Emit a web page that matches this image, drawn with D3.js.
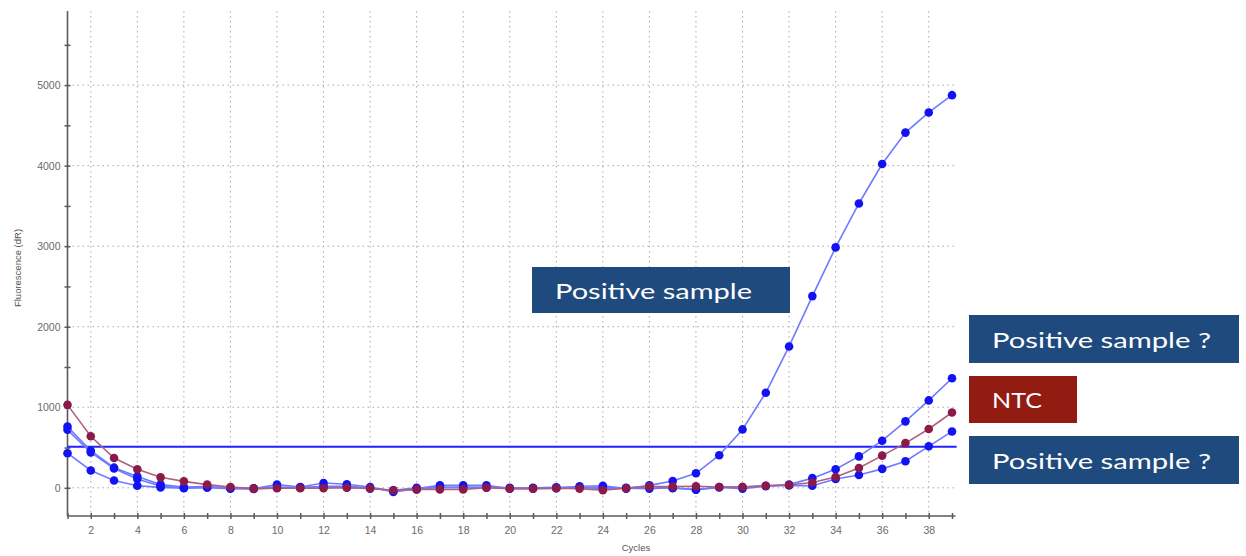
<!DOCTYPE html>
<html>
<head>
<meta charset="utf-8">
<script src="https://cdn.jsdelivr.net/npm/d3@7"></script>
<style>
  html, body { margin: 0; padding: 0; background: #fff; }
  svg { display: block; }
</style>
</head>
<body>
<svg id="chart" width="1246" height="556"></svg>
<script>
// Amplification curves: fluorescence (dR) per PCR cycle
const cycles = d3.range(1, 40);

const strongPositive = [760, 460, 250, 140, 40, 10, 15, -5, -10, 40,
  10, 60, 45, 10, -50, -10, 30, 30, 30, -10,
  -10, -5, 20, 25, -10, 30, 85, 180, 405, 725,
  1180, 1755, 2380, 2985, 3530, 4020, 4410, 4660, 4875];

const questionableUpper = [720, 440, 240, 110, 20, 0, 10, 0, -5, 10,
  0, 20, 20, 0, -40, -20, 10, 0, 10, 0,
  -5, 0, 10, -10, 0, 20, -5, -20, 10, 10,
  25, 40, 120, 230, 390, 585, 825, 1085, 1360];

const questionableLower = [430, 215, 90, 25, 5, -5, 0, -10, -15, 0,
  5, 10, 5, -10, -30, 0, 0, 10, 0, -5,
  0, 5, 0, 5, -5, -10, 0, -25, 5, -10,
  20, 30, 25, 110, 160, 235, 330, 515, 700];

const ntc = [1030, 640, 370, 230, 130, 80, 40, 10, -10, -5,
  -5, -5, 0, -5, -30, -20, -20, -20, 0, -10,
  -10, -5, -10, -30, -5, 15, 15, 20, 10, 10,
  25, 35, 65, 135, 245, 400, 555, 730, 935];

const threshold = 510;

const yTicks = [0, 1000, 2000, 3000, 4000, 5000];
const yMinorTicks = d3.range(0, 6000, 500);
const xLabelTicks = d3.range(2, 40, 2);

const annotations = [
  { text: "Positive sample", kind: "pos", x0: 532, x1: 790, y0: 267, y1: 313, w: 197 },
  { text: "Positive sample ?", kind: "pos", x0: 969, x1: 1239, y0: 315, y1: 363, w: 219 },
  { text: "NTC", kind: "ntc", x0: 969, x1: 1077, y0: 376, y1: 423, w: 50 },
  { text: "Positive sample ?", kind: "pos", x0: 969, x1: 1239, y0: 436, y1: 484, w: 219 }
];

const svg = d3.select("#chart");

const x = d3.scaleLinear().domain([1, 39.15]).range([67.5, 955.5]);
const y = d3.scaleLinear().domain([-350, 5920]).range([516, 11]);

const gridColor = "#a8a8a8";

// dotted grid
const grid = svg.append("g");
grid.selectAll("line.h").data(yTicks).join("line")
  .attr("x1", x(1)).attr("x2", x(39.15))
  .attr("y1", d => y(d)).attr("y2", d => y(d))
  .attr("stroke", gridColor).attr("stroke-width", 1)
  .attr("stroke-dasharray", "1.5,3.5");
grid.selectAll("line.v").data(xLabelTicks).join("line")
  .attr("x1", d => x(d)).attr("x2", d => x(d))
  .attr("y1", y(5920)).attr("y2", y(-350))
  .attr("stroke", gridColor).attr("stroke-width", 1)
  .attr("stroke-dasharray", "1.5,3.5");

// axes
const axisColor = "#5a5a5a";
const labelColor = "#6b6b6b";

const yAxis = svg.append("g").attr("transform", `translate(${x(1)},0)`)
  .call(d3.axisLeft(y).tickValues(yTicks).tickSize(0).tickPadding(7).tickFormat(d3.format("d")));
yAxis.select(".domain").remove();
yAxis.selectAll("text").attr("fill", labelColor)
  .style("font-family", "'Liberation Sans', Arial, sans-serif").style("font-size", "10.5px");

const yTickMarks = svg.append("g").attr("transform", `translate(${x(1)},0)`)
  .call(d3.axisLeft(y).tickValues(yMinorTicks).tickSizeOuter(0).tickFormat(""));
yTickMarks.select(".domain").remove();
yTickMarks.selectAll("line").attr("x2", -3).attr("x1", 3).attr("stroke", axisColor).attr("stroke-width", 1.5);

const xAxis = svg.append("g").attr("transform", `translate(0,${y(-350)})`)
  .call(d3.axisBottom(x).tickValues(xLabelTicks).tickSize(0).tickPadding(11).tickFormat(d3.format("d")));
xAxis.select(".domain").remove();
xAxis.selectAll("text").attr("fill", labelColor)
  .style("font-family", "'Liberation Sans', Arial, sans-serif").style("font-size", "10.5px");

const xTickMarks = svg.append("g").attr("transform", `translate(0,${y(-350)})`)
  .call(d3.axisBottom(x).tickValues(cycles).tickSizeOuter(0).tickFormat(""));
xTickMarks.select(".domain").remove();
xTickMarks.selectAll("line").attr("y1", -3).attr("y2", 3).attr("stroke", axisColor).attr("stroke-width", 1.5);

// axis lines
svg.append("line").attr("x1", x(1)).attr("x2", x(1)).attr("y1", y(5920)).attr("y2", y(-350))
  .attr("stroke", axisColor).attr("stroke-width", 1.6);
svg.append("line").attr("x1", x(1)).attr("x2", x(39.15)).attr("y1", y(-350)).attr("y2", y(-350))
  .attr("stroke", axisColor).attr("stroke-width", 1.6);

// axis titles
svg.append("text").attr("x", 636).attr("y", 551).attr("text-anchor", "middle")
  .attr("fill", "#555").style("font-family", "'Liberation Sans', Arial, sans-serif").style("font-size", "9.5px")
  .text("Cycles");
svg.append("text").attr("transform", "translate(21,268) rotate(-90)").attr("text-anchor", "middle")
  .attr("fill", "#555").style("font-family", "'Liberation Sans', Arial, sans-serif").style("font-size", "9.5px")
  .text("Fluorescence (dR)");

// threshold
svg.append("line").attr("x1", x(1)).attr("x2", x(39.2)).attr("y1", y(threshold)).attr("y2", y(threshold))
  .attr("stroke", "#2222ff").attr("stroke-width", 1.8);

// curves
const line = d3.line().x((d, i) => x(cycles[i])).y(d => y(d));
const series = [
  { values: questionableLower, line: "#6f7bff", dot: "#1212f2" },
  { values: questionableUpper, line: "#6f7bff", dot: "#1212f2" },
  { values: strongPositive, line: "#6f7bff", dot: "#1212f2" },
  { values: ntc, line: "#b0607e", dot: "#8a1a4a" }
];
series.forEach(s => {
  const g = svg.append("g");
  g.append("path").datum(s.values).attr("d", line)
    .attr("fill", "none").attr("stroke", s.line).attr("stroke-width", 1.6);
  g.selectAll("circle").data(s.values).join("circle")
    .attr("cx", (d, i) => x(cycles[i])).attr("cy", d => y(d)).attr("r", 4.3)
    .attr("fill", s.dot);
});

// annotation boxes
const boxFill = { pos: "#1f4a7d", ntc: "#921b12" };
const boxes = svg.append("g");
annotations.forEach(a => {
  boxes.append("rect").attr("x", a.x0).attr("y", a.y0)
    .attr("width", a.x1 - a.x0).attr("height", a.y1 - a.y0)
    .attr("fill", boxFill[a.kind]);
  boxes.append("text").attr("x", a.x0 + 23).attr("y", (a.y0 + a.y1) / 2 + 8.5)
    .attr("fill", "#fff")
    .attr("textLength", a.w).attr("lengthAdjust", "spacingAndGlyphs")
    .style("font-family", "Lato, 'Open Sans', sans-serif").style("font-size", "21.5px")
    .text(a.text);
});
</script>
</body>
</html>
